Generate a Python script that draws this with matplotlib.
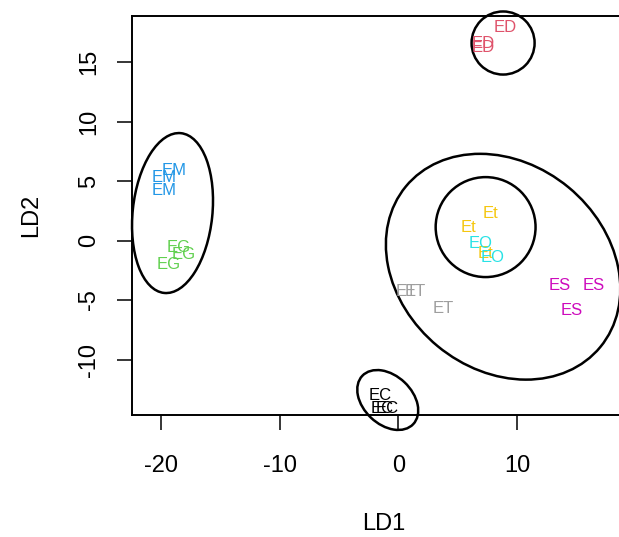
import matplotlib.pyplot as plt
from matplotlib.patches import Ellipse

plt.rcParams['font.family'] = ['Liberation Sans', 'DejaVu Sans']
plt.rcParams['axes.unicode_minus'] = False

# LDA scores, one label per observation
labels = ["EM", "EM", "EM", "EG", "EG", "EG",
          "ED", "ED", "ED",
          "Et", "Et", "Et", "EO", "EO",
          "ET", "ET", "ET",
          "ES", "ES", "ES",
          "EC", "EC", "EC"]
ld1 = [-18.9, -19.7, -19.7, -18.5, -18.1, -19.3,
       8.96, 7.12, 7.12,
       7.75, 5.85, 7.3, 6.87, 7.96,
       0.68, 1.44, 3.75,
       13.6, 16.4, 14.6,
       -1.55, -1.33, -0.91]
ld2 = [5.9, 5.3, 4.2, -0.6, -1.2, -2.0,
       17.9, 16.6, 16.2,
       2.31, 1.13, -1.06, -0.21, -1.39,
       -4.24, -4.3, -5.7,
       -3.74, -3.74, -5.84,
       -13.0, -14.1, -14.1]

group_colors = {"EC": "black", "ED": "#DF536B", "EG": "#61D04F",
                "EM": "#2297E6", "EO": "#28E2E5", "ES": "#CD0BBC",
                "Et": "#F5C710", "ET": "#9E9E9E"}

# cluster ellipses: centre x, centre y, width, height, angle
ell_x = [-19.0, 8.8, 7.33, 8.8, -0.9]
ell_y = [2.31, 16.6, 1.13, -2.2, -13.4]
ell_w = [13.5, 5.3, 8.4, 21.2, 5.9]
ell_h = [6.7, 5.3, 8.4, 17.3, 4.1]
ell_a = [84, 0, 0, -39.5, -43.5]

fig = plt.figure(figsize=(6.19, 5.37), dpi=100)
ax = fig.add_axes([0.2132, 0.2272, 0.8147, 0.743])

for i in range(len(labels)):
    ax.text(ld1[i], ld2[i], labels[i], color=group_colors[labels[i]],
            fontsize=12, ha="center", va="center")

for i in range(len(ell_x)):
    e = Ellipse((ell_x[i], ell_y[i]), ell_w[i], ell_h[i], angle=ell_a[i],
                fill=False, edgecolor="black", linewidth=1.8, clip_on=False)
    ax.add_patch(e)

ax.set_xlim(-22.41, 20)
ax.set_ylim(-14.66, 18.87)
ax.set_xticks([-20, -10, 0, 10])
ax.set_yticks([-10, -5, 0, 5, 10, 15])
ax.tick_params(direction="out", length=11, width=1.1, labelsize=17, pad=12)
ax.tick_params(axis="x", pad=18)
ax.tick_params(axis="y", labelrotation=90)
for lbl in ax.get_yticklabels():
    lbl.set_va("center")
for s in ax.spines.values():
    s.set_linewidth(1.4)

ax.set_xlabel("LD1", fontsize=17, labelpad=26)
ax.set_ylabel("LD2", fontsize=17, labelpad=26)

fig.savefig("out.png", dpi=100)
